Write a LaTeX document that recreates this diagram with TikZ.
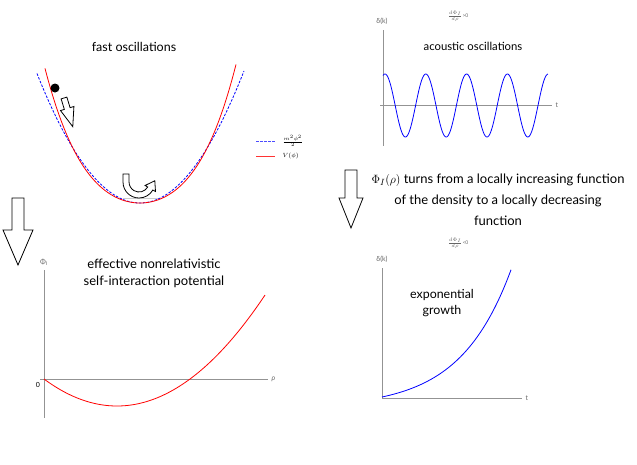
\documentclass[tikz,border=0pt]{standalone}
\usepackage{fontspec}
\setmainfont{Lato}
\begin{document}
\begin{tikzpicture}[x=1pt,y=-1pt,
  axis/.style={draw=gray!85, line width=1pt},
  hollow/.style={draw=black, line width=0.8pt, fill=white, line join=miter},
  title/.style={font=\fontsize{12.5}{16}\selectfont, align=center},
  big/.style={font=\fontsize{13}{21}\selectfont, align=center},
  tiny/.style={font=\fontsize{7}{8}\selectfont, text=gray!80!black},
  tinier/.style={font=\fontsize{5}{6}\selectfont, text=gray!80!black}]
\useasboundingbox (0,0) rectangle (637,464);

% ---------- top left: potential ----------
\node[title] (fast) at (134,47) {fast oscillations};
\draw[blue, dash pattern=on 2.5pt off 1.5pt, line width=0.8pt] plot[domain=37:244, samples=120] (\x,{203-0.0122*(\x-140)^2});
\draw[red, line width=0.8pt] plot[domain=45:236, samples=120] (\x,{203-0.0095*(\x-140)^2-0.006*((\x-140)/10)^4});
\draw[gray!40, line width=0.6pt] (123,198.5) -- (158,198.5);
\fill[black] (55,88) circle (4.5);
\begin{scope}[shift={(64,98)}, rotate=17]
  \draw[hollow] (-3,0) -- (3,0) -- (3,11) -- (7,11) -- (0,30) -- (-7,11) -- (-3,11) -- cycle;
\end{scope}
\draw[hollow] (123,174) -- (123,182) arc[start angle=180, end angle=30, radius=16]
  -- (155.5,191.5) -- (154.8,180.7) -- (145.1,185.5) -- (147.7,187)
  arc[start angle=30, end angle=180, radius=10] -- (129,174) -- cycle;
% legend
\coordinate (lb1) at (256,141); \coordinate (lb2) at (275,141);
\coordinate (lr1) at (256,156); \coordinate (lr2) at (275,156);
\draw[blue!70, dash pattern=on 2.5pt off 1.5pt, line width=0.8pt] (lb1) -- (lb2);
\draw[red!80, line width=0.8pt] (lr1) -- (lr2);
\node[tinier, anchor=west, text=black] (legb) at (279,141) {$\frac{m^2\phi^2}{2}$};
\node[font=\fontsize{6}{7}\selectfont, anchor=west, text=black] (legr) at (279,156) {$V(\phi)$};

% ---------- arrows ----------
\draw[hollow] (12,198) -- (24,198) -- (24,230) -- (33,230) -- (18,265) -- (3,230) -- (12,230) -- cycle;
\draw[hollow] (345,170) -- (357,170) -- (357,198) -- (363,198) -- (351,228) -- (339,198) -- (345,198) -- cycle;

% ---------- top right: acoustic ----------
\node[font=\fontsize{11.3}{14}\selectfont] (acou) at (473,46) {acoustic oscillations};
\node[tinier] (dp1) at (458,16) {$\frac{d\Phi_I}{d\rho}$>0};
\node[tiny] (dk1) at (382,21) {δ(k)};
\coordinate (ay1) at (383,30); \coordinate (ay2) at (383,146);
\coordinate (ax1) at (380,105); \coordinate (ax2) at (552,105);
\draw[axis] (ay1) -- (ay2);
\draw[axis] (ax1) -- (ax2);
\node[tiny, anchor=west] (t1) at (ax2) {t};
\draw[blue, line width=0.8pt] plot[domain=383:548, samples=240] (\x,{105.5-31.5*cos(8.8235*(\x-385))});

% ---------- middle text ----------
\node[big] (turns) at (498,200) {$\Phi_I(\rho)$ turns from a locally increasing function\\of the density to a locally decreasing\\function};

% ---------- bottom right: growth ----------
\node[tinier] (dp2) at (458,243) {$\frac{d\Phi_I}{d\rho}$<0};
\node[tiny] (dk2) at (382,259) {δ(k)};
\coordinate (by1) at (382,268); \coordinate (by2) at (382,399);
\coordinate (bx1) at (382,398); \coordinate (bx2) at (522,398);
\draw[axis] (by1) -- (by2);
\draw[axis] (bx1) -- (bx2);
\node[tiny, anchor=west] (t2) at (bx2) {t};
\draw[blue, line width=0.8pt] plot[domain=382:511, samples=120] (\x,{397-10.88*(exp(0.0197*(\x-382))-1)});
\node[font=\fontsize{12.4}{16}\selectfont, align=center] (expg) at (442,303) {exponential\\growth};

% ---------- bottom left: potential ----------
\node[font=\fontsize{13}{17}\selectfont, align=center] (eff) at (154,273) {effective nonrelativistic\\self-interaction potential};
\node[tiny] (phil) at (44,262) {Φ\textsubscript{I}};
\coordinate (cy1) at (44,270); \coordinate (cy2) at (44,418);
\coordinate (cx1) at (40,379); \coordinate (cx2) at (268,379);
\draw[axis] (cy1) -- (cy2);
\draw[axis] (cx1) -- (cx2);
\node[tiny, anchor=west] (rho) at (cx2) {\textit{ρ}};
\node[tiny, text=black] (zero) at (38,385) {0};
\draw[red, line width=0.8pt] plot[domain=44:265, samples=120] (\x,{379-0.00507*(\x-44)*(\x-190)});
\end{tikzpicture}
\end{document}
